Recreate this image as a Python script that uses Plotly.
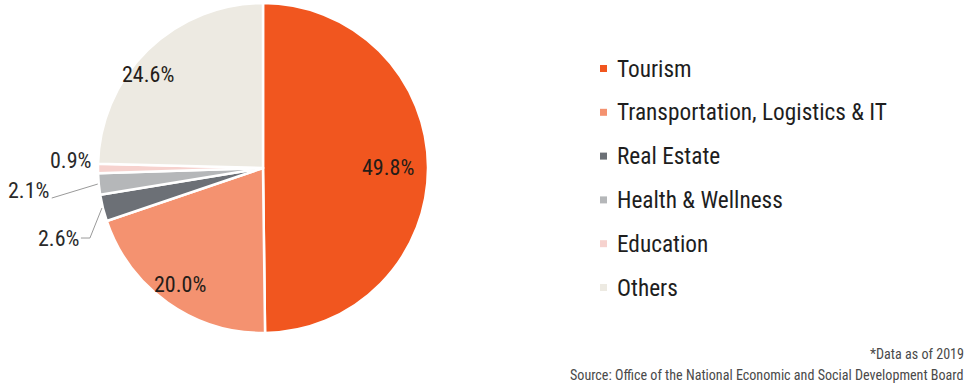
import math
import plotly.graph_objects as go

# Sector shares of investment promotion (percent)
sectors = ["Tourism", "Transportation, Logistics & IT", "Real Estate",
           "Health & Wellness", "Education", "Others"]
shares = [49.8, 20.0, 2.6, 2.1, 0.9, 24.6]
colors = ["#F1561F", "#F49270", "#6C7076", "#B5B7B9", "#F6D2CE", "#EDEAE2"]
notes = ["*Data as of 2019",
         "Source: Office of the National Economic and Social Development Board"]

W, H = 968, 383
CX, CY, R = 263, 168, 165          # pie centre and radius in pixels
FONT = "Liberation Sans Narrow, Arial Narrow, Roboto Condensed, sans-serif"


def fx(x):
    return x / W


def fy(y):
    return 1 - y / H


def mid_angle(i):
    """Clockwise angle from 12 o'clock to the middle of slice i (radians)."""
    total = sum(shares)
    start = sum(shares[:i]) / total
    return 2 * math.pi * (start + shares[i] / total / 2)


def polar(i, radius):
    a = mid_angle(i)
    return CX + radius * math.sin(a), CY - radius * math.cos(a)


fig = go.Figure(go.Pie(
    labels=sectors, values=shares, sort=False, direction="clockwise",
    rotation=0, textinfo="none", hoverinfo="label+value",
    marker=dict(colors=colors, line=dict(color="white", width=2.5)),
    domain=dict(x=[fx(CX - R), fx(CX + R)], y=[fy(CY + R), fy(CY - R)]),
    showlegend=False,
))

annotations = []
shapes = []

# Labels drawn inside the large slices: radial factor and pixel nudge
inside = {0: (0.76, (0, 0)), 1: (0.87, (0, -1)), 5: (0.90, (-11, 13))}
for i, (k, (dx, dy)) in inside.items():
    x, y = polar(i, R * k)
    annotations.append(dict(
        x=fx(x + dx), y=fy(y + dy), xref="paper", yref="paper",
        text=f"{shares[i]:.1f}%", showarrow=False,
        font=dict(family=FONT, size=22, color="#241C18"),
        xanchor="center", yanchor="middle"))

# Labels set outside the thin slices, with leader lines
outside = {
    4: dict(label=(-5, -8), path=None),
    3: dict(label=(-48, 6), path=[(-47, 14)]),
    2: dict(label=(-22, 30), path=[(-22, 30), (-13, 30)]),
}
for i, spec in outside.items():
    ex, ey = polar(i, R)
    lx, ly = ex + spec["label"][0], ey + spec["label"][1]
    annotations.append(dict(
        x=fx(lx), y=fy(ly), xref="paper", yref="paper",
        text=f"{shares[i]:.1f}%", showarrow=False,
        font=dict(family=FONT, size=22, color="#2A2A2A"),
        xanchor="right", yanchor="middle"))
    if spec["path"]:
        pts = [(ex + ox, ey + oy) for ox, oy in spec["path"]] + [(ex - 1, ey)]
        d = "M " + " L ".join(f"{fx(px):.5f},{fy(py):.5f}" for px, py in pts)
        shapes.append(dict(type="path", path=d, xref="paper", yref="paper",
                           line=dict(color="#9A9A9A", width=1)))

# Legend: small squares and names
LEG_X, LEG_Y0, LEG_DY = 603.5, 68.5, 43.8
for i, name in enumerate(sectors):
    yc = LEG_Y0 + i * LEG_DY
    shapes.append(dict(type="rect", xref="paper", yref="paper",
                       x0=fx(LEG_X - 3.5), x1=fx(LEG_X + 3.5),
                       y0=fy(yc + 3.5), y1=fy(yc - 3.5),
                       fillcolor=colors[i], line=dict(width=0)))
    annotations.append(dict(
        x=fx(615), y=fy(yc), xref="paper", yref="paper", text=name,
        showarrow=False, xanchor="left", yanchor="middle",
        font=dict(family=FONT, size=23.3, color="#1E1E1E")))

# Footnotes
for j, line in enumerate(notes):
    annotations.append(dict(
        x=fx(966), y=fy(354 + j * 20.5), xref="paper", yref="paper",
        text=line, showarrow=False, xanchor="right", yanchor="middle",
        font=dict(family=FONT, size=14.1, color="#4A4A4A")))

fig.update_layout(
    width=W, height=H, margin=dict(l=0, r=0, t=0, b=0),
    paper_bgcolor="white", plot_bgcolor="white",
    annotations=annotations, shapes=shapes,
)

fig.write_html("out.html")
